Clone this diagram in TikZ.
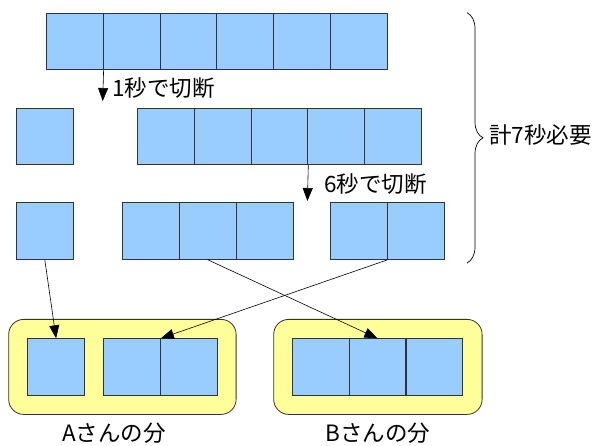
\documentclass[tikz,border=0pt]{standalone}
\usepackage{fontspec}
\setmainfont{Noto Sans CJK JP}
\usetikzlibrary{arrows.meta,decorations.pathreplacing}
\definecolor{cellblue}{HTML}{99CCFF}
\definecolor{boxyellow}{HTML}{FFFF99}
\definecolor{edgegray}{HTML}{333333}
\begin{document}
\begin{tikzpicture}[x=1pt,y=-1pt,
  cell/.style={draw=edgegray,line width=0.8pt,fill=cellblue,minimum width=56.8pt,minimum height=56.7pt,inner sep=0pt,anchor=north west},
  group/.style={draw=edgegray,line width=0.8pt,fill=boxyellow,rounded corners=15pt},
  conn/.style={line width=0.6pt,-{Triangle[length=13pt,width=10pt]}},
  lbl/.style={font=\fontsize{22.5}{26}\selectfont,inner sep=0pt}]
\useasboundingbox (0,0) rectangle (608,446);
% row 1
\foreach \i/\n in {0/a,1/b,2/c,3/d,4/e,5/f}
  \node[cell] (r1\n) at (46+\i*56.8,12.7) {};
% row 2
\node[cell] (s2) at (16,107.7) {};
\foreach \i/\n in {0/a,1/b,2/c,3/d,4/e}
  \node[cell] (r2\n) at (137.3+\i*56.7,107.7) {};
% row 3
\node[cell] (s3) at (16,202.3) {};
\foreach \i/\n in {0/a,1/b,2/c}
  \node[cell] (r3\n) at (122.3+\i*56.7,202.3) {};
\node[cell] (r3d) at (330,202.3) {};
\node[cell] (r3e) at (386.7,202.3) {};
% groups
\node[group,minimum width=227.4pt,minimum height=95pt,anchor=north west] (ga) at (8.3,319) {};
\node[group,minimum width=208.4pt,minimum height=95pt,anchor=north west] (gb) at (273.3,319) {};
\node[cell] (a1) at (27.3,338.3) {};
\node[cell] (a2) at (103.3,338.3) {};
\node[cell] (a3) at (160,338.3) {};
\foreach \i/\n in {0/1,1/2,2/3}
  \node[cell] (b\n) at (291.7+\i*56.9,338.3) {};
% cut arrows
\coordinate (t1) at (102.7,101);
\coordinate (t2) at (307.4,201);
\draw[conn] (r1a.south east) -- (t1);
\draw[conn] (r2c.south east) -- (t2);
\node[lbl,anchor=west] (l1) at (112,88) {1秒で切断};
\node[lbl,anchor=west] (l2) at (324,184) {6秒で切断};
% distribution arrows
\draw[conn] (s3.south) -- (a1.north);
\draw[conn] (r3d.south east) -- (a2.north east);
\draw[conn] (r3b.south) -- (b2.north);
% brace
\coordinate (bt) at (467,12.7);
\coordinate (bb) at (467,263);
\draw[line width=0.7pt,decorate,decoration={brace,amplitude=16pt}] (bt) -- (bb);
\node[lbl,anchor=west] (tot) at (489,135) {計7秒必要};
% names
\node[lbl] (na) at (114,433) {Aさんの分};
\node[lbl] (nb) at (378,433) {Bさんの分};
\end{tikzpicture}
\end{document}
